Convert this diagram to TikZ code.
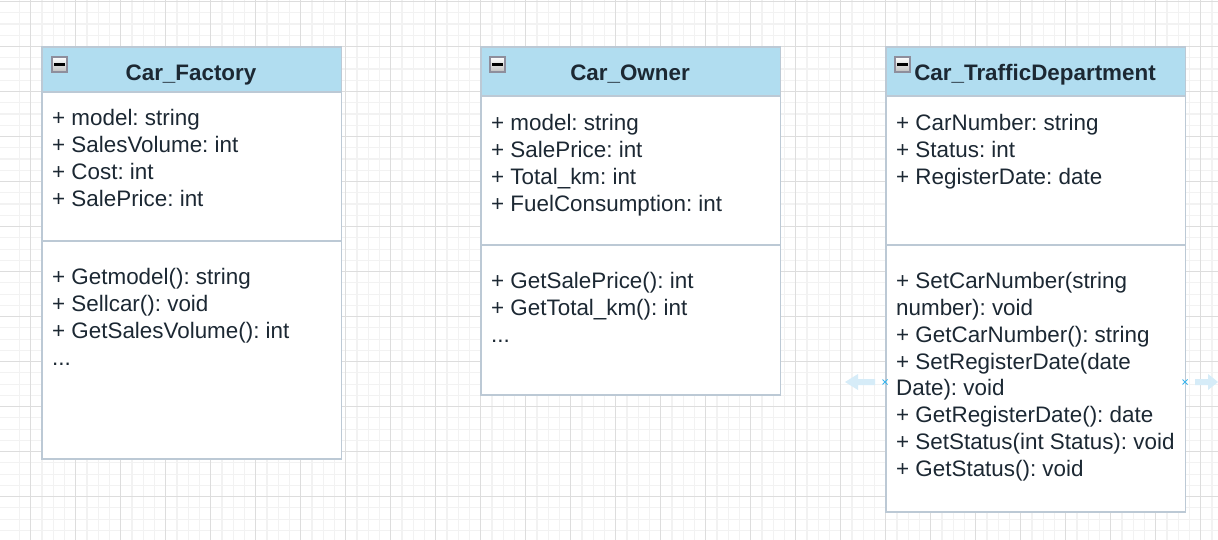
\documentclass[tikz,border=0pt]{standalone}
\usepackage{fontspec}
\setmainfont{Liberation Sans}
\frenchspacing
\definecolor{hdrfill}{HTML}{B1DDF0}
\definecolor{boxstroke}{HTML}{BCC9D5}
\definecolor{txt}{HTML}{1C2833}
\definecolor{gridminor}{HTML}{F2F2F2}
\definecolor{gridmajor}{HTML}{DDDDDD}
\definecolor{hoverarrow}{HTML}{D6ECF8}
\definecolor{hovermark}{HTML}{3AB4EC}
\definecolor{iconborder}{HTML}{8E8E9C}
\tikzset{
  classbody/.style={draw=boxstroke, line width=1.6pt, fill=white, anchor=north west, inner sep=0pt, minimum width=299.5pt},
  classhead/.style={draw=boxstroke, line width=1.6pt, fill=hdrfill, anchor=north west, inner sep=0pt, minimum width=299.5pt},
  divider/.style={draw=boxstroke, line width=1.6pt},
  title/.style={text=txt, font=\fontsize{22.4}{27}\selectfont\bfseries, anchor=base, inner sep=0pt},
  member/.style={text=txt, font=\fontsize{22.4}{27}\selectfont, anchor=base west, inner sep=0pt},
  icon/.style={draw=iconborder, line width=1.8pt, top color=white, bottom color=black!25, anchor=north west, minimum width=15pt, minimum height=15pt, inner sep=0pt},
  iconbar/.style={line width=2.4pt, black},
  hover/.style={fill=hoverarrow, draw=none},
  hmark/.style={draw=hovermark, line width=1pt},
}
\begin{document}
\begin{tikzpicture}[x=1pt,y=-1pt]
\useasboundingbox (0,0) rectangle (1218,540);
\fill[white] (0,0) rectangle (1218,540);
% grid
\begin{scope}
\clip (0,0) rectangle (1218,540);
\foreach \i in {-1,...,108} {
  \draw[gridminor, line width=1.2pt] ({30.7+11.25*\i},0) -- ({30.7+11.25*\i},540);
}
\foreach \i in {0,...,48} {
  \draw[gridminor, line width=1.2pt] (0,{1.6+11.25*\i}) -- (1218,{1.6+11.25*\i});
}
\foreach \i in {0,...,27} {
  \draw[gridmajor, line width=1.2pt] ({30.7+45*\i},0) -- ({30.7+45*\i},540);
}
\foreach \i in {0,...,12} {
  \draw[gridmajor, line width=1.2pt] (0,{1.6+45*\i}) -- (1218,{1.6+45*\i});
}
\end{scope}

% ---------- Car_Factory ----------
\node[classbody, minimum height=412pt] (fbody) at (41,46) {};
\node[classhead, minimum height=45pt] (fhead) at (41,46) {};
\draw[divider] (41,241) -- (340.5,241);
\node[icon] (ficon) at (51,56) {};
\draw[iconbar] ([xshift=3pt]ficon.west) -- ([xshift=-3pt]ficon.east);
\node[title] (ftitle) at (191,80.5) {Car\_Factory};
\node[member] (fa1) at (52,125.5) {+ model: string};
\node[member] (fa2) at (52,152.5) {+ SalesVolume: int};
\node[member] (fa3) at (52,179.5) {+ Cost: int};
\node[member] (fa4) at (52,206.5) {+ SalePrice: int};
\node[member] (fm1) at (52,284.5) {+ Getmodel(): string};
\node[member] (fm2) at (52,311.5) {+ Sellcar(): void};
\node[member] (fm3) at (52,338.5) {+ GetSalesVolume(): int};
\node[member] (fm4) at (52,365.5) {...};

% ---------- Car_Owner ----------
\node[classbody, minimum height=348pt] (obody) at (480,46) {};
\node[classhead, minimum height=49pt] (ohead) at (480,46) {};
\draw[divider] (480,245) -- (779.5,245);
\node[icon] (oicon) at (489,56) {};
\draw[iconbar] ([xshift=3pt]oicon.west) -- ([xshift=-3pt]oicon.east);
\node[title] (otitle) at (630,80.5) {Car\_Owner};
\node[member] (oa1) at (491,130.5) {+ model: string};
\node[member] (oa2) at (491,157.5) {+ SalePrice: int};
\node[member] (oa3) at (491,184.5) {+ Total\_km: int};
\node[member] (oa4) at (491,211.5) {+ FuelConsumption: int};
\node[member] (om1) at (491,288.5) {+ GetSalePrice(): int};
\node[member] (om2) at (491,315.5) {+ GetTotal\_km(): int};
\node[member] (om3) at (491,342.5) {...};

% ---------- Car_TrafficDepartment ----------
\node[classbody, minimum height=465pt] (tbody) at (885,46) {};
\node[classhead, minimum height=49pt] (thead) at (885,46) {};
\draw[divider] (885,245) -- (1184.5,245);
\node[icon] (ticon) at (894,56) {};
\draw[iconbar] ([xshift=3pt]ticon.west) -- ([xshift=-3pt]ticon.east);
\node[title] (ttitle) at (1035,80.5) {Car\_TrafficDepartment};
\node[member] (ta1) at (896,130.5) {+ CarNumber: string};
\node[member] (ta2) at (896,157.5) {+ Status: int};
\node[member] (ta3) at (896,184.5) {+ RegisterDate: date};
\node[member] (tm1) at (896,288.5) {+ SetCarNumber(string};
\node[member] (tm1b) at (896,315.5) {number): void};
\node[member] (tm2) at (896,342.5) {+ GetCarNumber(): string};
\node[member] (tm3) at (896,369.5) {+ SetRegisterDate(date};
\node[member] (tm3b) at (896,395.5) {Date): void};
\node[member] (tm4) at (896,422.5) {+ GetRegisterDate(): date};
\node[member] (tm5) at (896,449.5) {+ SetStatus(int Status): void};
\node[member] (tm6) at (896,476.5) {+ GetStatus(): void};

% ---------- hover hints ----------
\fill[hover] (845,382) -- (858,374) -- (858,379) -- (875,379) -- (875,385) -- (858,385) -- (858,390) -- cycle;
\fill[hover] (1218,382) -- (1208,374) -- (1208,379) -- (1195,379) -- (1195,385) -- (1208,385) -- (1208,390) -- cycle;
\coordinate (lm) at (885,382);
\coordinate (rm) at (1185,382);
\draw[hmark] ([shift={(-2.5,-2.5)}]lm) -- ([shift={(2.5,2.5)}]lm) ([shift={(-2.5,2.5)}]lm) -- ([shift={(2.5,-2.5)}]lm);
\draw[hmark] ([shift={(-2.5,-2.5)}]rm) -- ([shift={(2.5,2.5)}]rm) ([shift={(-2.5,2.5)}]rm) -- ([shift={(2.5,-2.5)}]rm);
\end{tikzpicture}
\end{document}
